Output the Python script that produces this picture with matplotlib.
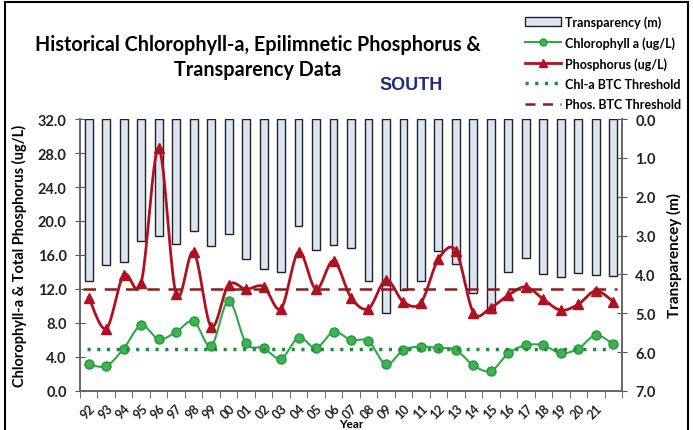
import numpy as np
import matplotlib.pyplot as plt
from matplotlib.patches import Rectangle
from matplotlib.lines import Line2D
from matplotlib.patches import Patch

# dane
years = ['92', '93', '94', '95', '96', '97', '98', '99', '00', '01', '02', '03', '04',
         '05', '06', '07', '08', '09', '10', '11', '12', '13', '14', '15', '16', '17',
         '18', '19', '20', '21', '']
transparency = [4.17, 3.76, 3.67, 3.15, 3.02, 3.22, 2.88, 3.28, 2.97, 3.61, 3.87, 3.95, 2.75,
                3.38, 3.23, 3.31, 4.17, 4.98, 4.41, 4.17, 3.39, 3.74, 4.49, 4.98, 3.95, 3.58,
                3.99, 4.06, 3.97, 4.02, 4.04]
phosphorus = [11.0, 7.34, 13.66, 12.76, 28.54, 11.39, 16.37, 7.58, 12.49, 11.97, 12.29, 9.70, 16.37,
              11.97, 15.31, 11.0, 9.70, 13.07, 10.48, 10.40, 15.51, 16.49, 9.23, 9.82, 11.27, 12.25,
              10.80, 9.50, 10.21, 11.78, 10.52]
chlorophyll = [3.14, 2.94, 4.99, 7.73, 6.09, 6.95, 8.21, 5.30, 10.60, 5.61, 5.06, 3.81, 6.28,
               5.06, 6.95, 6.01, 5.85, 3.14, 4.83, 5.22, 5.06, 4.83, 3.02, 2.36, 4.44, 5.38,
               5.38, 4.44, 4.99, 6.56, 5.50]
chl_threshold = 5.0
phos_threshold = 12.0

FONT = 'Lato'
plt.rcParams['font.family'] = [FONT, 'DejaVu Sans']


# wygładzanie linii jak w Excelu (krzywe Beziera)
def smooth(x, y, n=20):
    x = np.asarray(x, float)
    y = np.asarray(y, float)
    xs, ys = [], []
    for i in range(len(x) - 1):
        p0 = np.array([x[max(i - 1, 0)], y[max(i - 1, 0)]])
        p1 = np.array([x[i], y[i]])
        p2 = np.array([x[i + 1], y[i + 1]])
        p3 = np.array([x[min(i + 2, len(x) - 1)], y[min(i + 2, len(x) - 1)]])
        c1 = p1 + (p2 - p0) / 6
        c2 = p2 - (p3 - p1) / 6
        t = np.linspace(0, 1, n)[:, None]
        pts = (1 - t) ** 3 * p1 + 3 * (1 - t) ** 2 * t * c1 + 3 * (1 - t) * t ** 2 * c2 + t ** 3 * p2
        xs.extend(pts[:, 0])
        ys.extend(pts[:, 1])
    return xs, ys


x = np.arange(len(years))

fig = plt.figure(figsize=(6.93, 4.31), dpi=100)
ax = fig.add_axes([80 / 693, 1 - 392 / 431, 542 / 693, 272 / 431])
ax2 = ax.twinx()

# slupki przezroczystosci (os prawa, odwrocona)
ax2.bar(x, transparency, width=0.45, color='#DCE6F2', edgecolor='#222222', linewidth=1.0)
ax2.set_ylim(7, 0)
ax2.set_yticks(np.arange(0, 8, 1))
ax2.set_yticklabels(['%.1f' % v for v in np.arange(0, 8, 1)])

ax.set_zorder(ax2.get_zorder() + 1)
ax.patch.set_visible(False)

red = '#B01020'
green = '#2DA84A'
sx, sy = smooth(x, phosphorus)
ax.plot(sx, sy, color=red, lw=2)
ax.plot(x, phosphorus, ls='none', marker='^', ms=7, color=red)
gx, gy = smooth(x, chlorophyll)
ax.plot(gx, gy, color=green, lw=1.5)
ax.plot(x, chlorophyll, ls='none', marker='o', ms=6.5, color='#3DB352', mec='#2A9440')

ax.plot([-0.3, 30.2], [phos_threshold] * 2, color='#8B1C1C', lw=1.8, ls=(0, (5, 3.5)))
ax.plot([-0.1, 29.8], [chl_threshold] * 2, color='#1E8B3A', lw=2.5, ls=(0, (0.9, 1.9)))

ax.set_xlim(-0.5, len(years) - 0.5)
ax.set_ylim(0, 32)
ax.set_yticks(np.arange(0, 33, 4))
ax.set_yticklabels(['%.1f' % v for v in np.arange(0, 33, 4)])
ax.set_xticks(x)
ax.set_xticklabels(years, rotation=45, ha='right', va='top', rotation_mode='anchor')
ax.set_xticks(np.arange(-0.5, len(years), 1), minor=True)
ax.tick_params(axis='x', which='major', length=0, pad=7.5, labelsize=9, labelcolor='#222222')
ax.tick_params(axis='x', which='minor', length=5, color='#555555')
ax.tick_params(axis='y', direction='inout', length=7, color='#555555', labelsize=10.5,
               labelcolor='#222222', pad=6)
ax2.tick_params(axis='y', direction='inout', length=7, color='#555555', labelsize=10.5,
                labelcolor='#222222', pad=6)
for a in (ax, ax2):
    a.spines['top'].set_visible(False)
    for s in ('left', 'right', 'bottom'):
        a.spines[s].set_color('#666666')
        a.spines[s].set_linewidth(1.2)
for lab in ax.get_yticklabels() + ax2.get_yticklabels() + ax.get_xticklabels():
    lab.set_fontweight('bold')

ax.set_ylabel('Chlorophyll-a & Total Phosphorus (ug/L)', fontsize=10.5, fontweight='bold',
              labelpad=8)
ax2.set_ylabel('Transparencey (m)', fontsize=11, fontweight='bold', labelpad=8)
ax.set_xlabel('Year', fontsize=8.5, fontweight='bold')
ax.xaxis.set_label_coords(0.5, -(419.5 - 392) / 272)

fig.text(258 / 693, 1 - 45 / 431, 'Historical Chlorophyll-a, Epilimnetic Phosphorus &',
         ha='center', va='center', fontsize=14.2, fontweight='bold')
fig.text(258 / 693, 1 - 70 / 431, 'Transparency Data', ha='center', va='center', fontsize=14.2,
         fontweight='bold')
fig.text(411 / 693, 1 - 85 / 431, 'SOUTH', ha='center', va='center', fontsize=13,
         fontweight='bold', color='#1F2A80', family='Liberation Sans')

handles = [Patch(facecolor='#DCE6F2', edgecolor='#222222'),
           Line2D([], [], color=green, marker='o', ms=5, mfc='#3DB352', mec='#2A9440'),
           Line2D([], [], color=red, lw=2, marker='^', ms=6),
           Line2D([], [], color='#1E8B3A', lw=2.5, ls=(0, (0.9, 1.9))),
           Line2D([], [], color='#8B1C1C', lw=1.8, ls=(0, (4, 3)))]
labels = ['Transparency (m)', 'Chlorophyll a (ug/L)', 'Phosphorus (ug/L)',
          'Chl-a BTC Threshold', 'Phos. BTC Threshold']
fig.legend(handles, labels, loc='upper left', bbox_to_anchor=(520 / 693, 1 - 11 / 431),
           frameon=False, prop={'size': 9, 'weight': 'bold'}, handlelength=2.9,
           labelspacing=0.66, borderaxespad=0, handletextpad=0.3)

fig.patches.append(Rectangle((5 / 693, -0.1), 683 / 693, 1.1 - 3 / 431, transform=fig.transFigure,
                             fill=False, edgecolor='black', lw=1.5))

fig.savefig('out.png', dpi=100)
